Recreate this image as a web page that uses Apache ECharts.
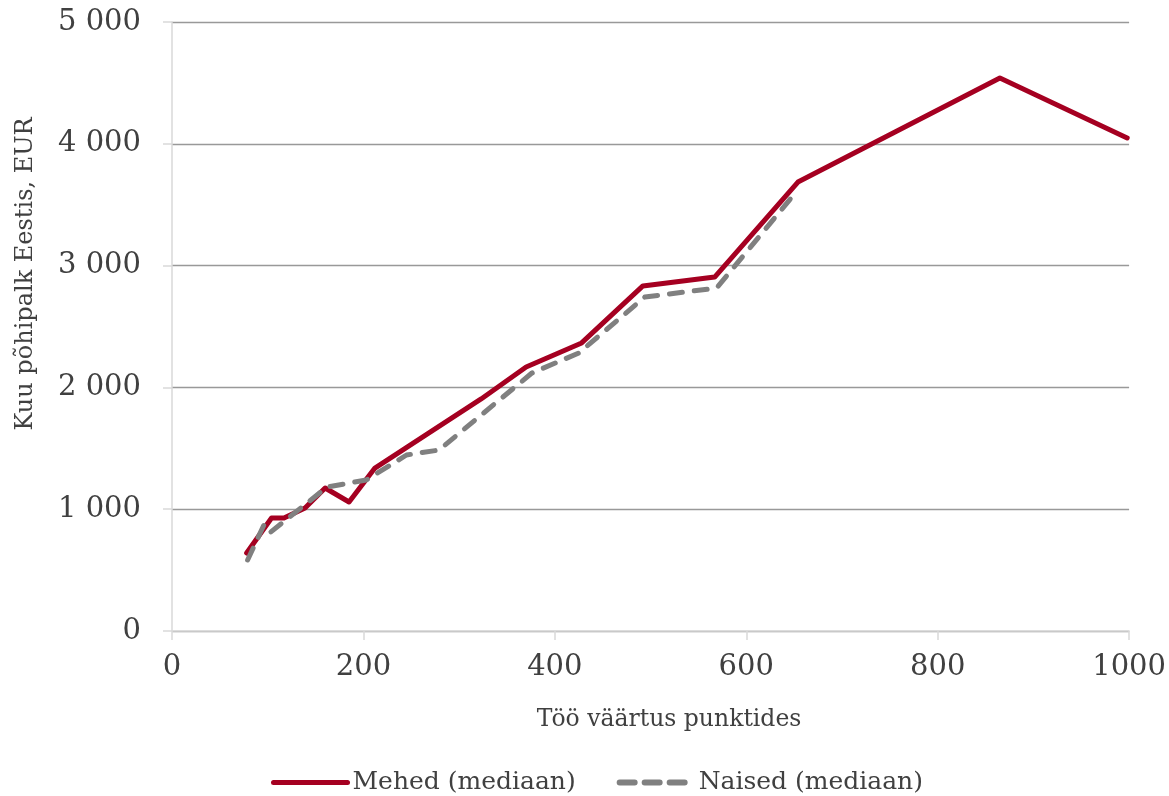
<!DOCTYPE html>
<html>
<head>
<meta charset="utf-8">
<script src="https://cdn.jsdelivr.net/npm/echarts@6/dist/echarts.min.js"></script>
<style>
html,body{margin:0;padding:0;background:#fff;}
#chart{width:1169px;height:796px;}
</style>
</head>
<body>
<div id="chart"></div>
<script>
// Data
var menPoints = [78, 104, 117, 139, 160, 185, 212, 323, 370, 428, 492, 567, 654, 865, 998];
var menSalary = [640, 928, 928, 1010, 1174, 1059, 1338, 1905, 2167, 2365, 2833, 2906, 3686, 4540, 4048];
var womenPoints = [79, 96, 102, 162, 203, 245, 279, 376, 425, 494, 569, 652];
var womenSalary = [583, 870, 805, 1182, 1240, 1445, 1486, 2118, 2282, 2742, 2816, 3604];
var seriesNames = ['Mehed (mediaan)', 'Naised (mediaan)'];
var xTitle = 'Töö väärtus punktides';
var yTitle = 'Kuu põhipalk Eestis, EUR';

function zip(a, b) { return a.map(function (v, i) { return [v, b[i]]; }); }

var FONT = 'DejaVu Serif';
var TXT = '#404040';
var RED = '#A50021';
var GRAY = '#808080';
var chart = echarts.init(document.getElementById('chart'));
chart.setOption({
  animation: false,
  backgroundColor: '#ffffff',
  textStyle: { fontFamily: FONT, color: TXT },
  grid: { left: 172, right: 39, top: 22, bottom: 165 },
  legend: {
    top: 765,
    left: 266,
    itemWidth: 74,
    itemHeight: 14,
    itemGap: 41,
    textStyle: { fontFamily: FONT, fontSize: 25, color: TXT },
    data: [
      { name: seriesNames[0], itemStyle: { opacity: 0 }, lineStyle: { width: 5 } },
      { name: seriesNames[1], itemStyle: { opacity: 0 }, lineStyle: { width: 6, type: [15, 10], cap: 'round' } }
    ]
  },
  xAxis: {
    type: 'value', min: 0, max: 1000, interval: 200,
    axisLine: { show: true, lineStyle: { color: '#d9d9d9', width: 1.5 } },
    axisTick: { show: true, length: 9, lineStyle: { color: '#d9d9d9', width: 1.5 } },
    axisLabel: { fontFamily: FONT, fontSize: 29, color: TXT, margin: 22, formatter: function (v) { return String(v); } },
    splitLine: { show: false }
  },
  yAxis: {
    type: 'value', min: 0, max: 5000, interval: 1000,
    axisLine: { show: true, lineStyle: { color: '#d9d9d9', width: 1.5 } },
    axisTick: { show: true, length: 9, lineStyle: { color: '#d9d9d9', width: 1.5 } },
    axisLabel: {
      fontFamily: FONT, fontSize: 29, color: TXT, margin: 31,
      formatter: function (v) { return v >= 1000 ? Math.floor(v / 1000) + ' 000' : String(v); }
    },
    splitLine: { show: true, lineStyle: { color: '#999999', width: 1.3 } }
  },
  graphic: [
    {
      type: 'text', x: 669, y: 720,
      style: { text: xTitle, fontFamily: FONT, fontSize: 23.5, fill: TXT, align: 'center', verticalAlign: 'middle' }
    },
    {
      type: 'text', x: 26, y: 274, rotation: Math.PI / 2,
      style: { text: yTitle, fontFamily: FONT, fontSize: 24, fill: TXT, align: 'center', verticalAlign: 'middle' }
    }
  ],
  series: [
    {
      name: seriesNames[0], type: 'line', showSymbol: false, symbol: 'none',
      data: zip(menPoints, menSalary),
      lineStyle: { color: RED, width: 5, cap: 'round', join: 'round' },
      itemStyle: { color: RED },
      z: 3
    },
    {
      name: seriesNames[1], type: 'line', showSymbol: false, symbol: 'none',
      data: zip(womenPoints, womenSalary),
      lineStyle: { color: GRAY, width: 5, type: [13, 12], cap: 'round', join: 'round' },
      itemStyle: { color: GRAY },
      z: 4
    }
  ]
});
</script>
</body>
</html>
